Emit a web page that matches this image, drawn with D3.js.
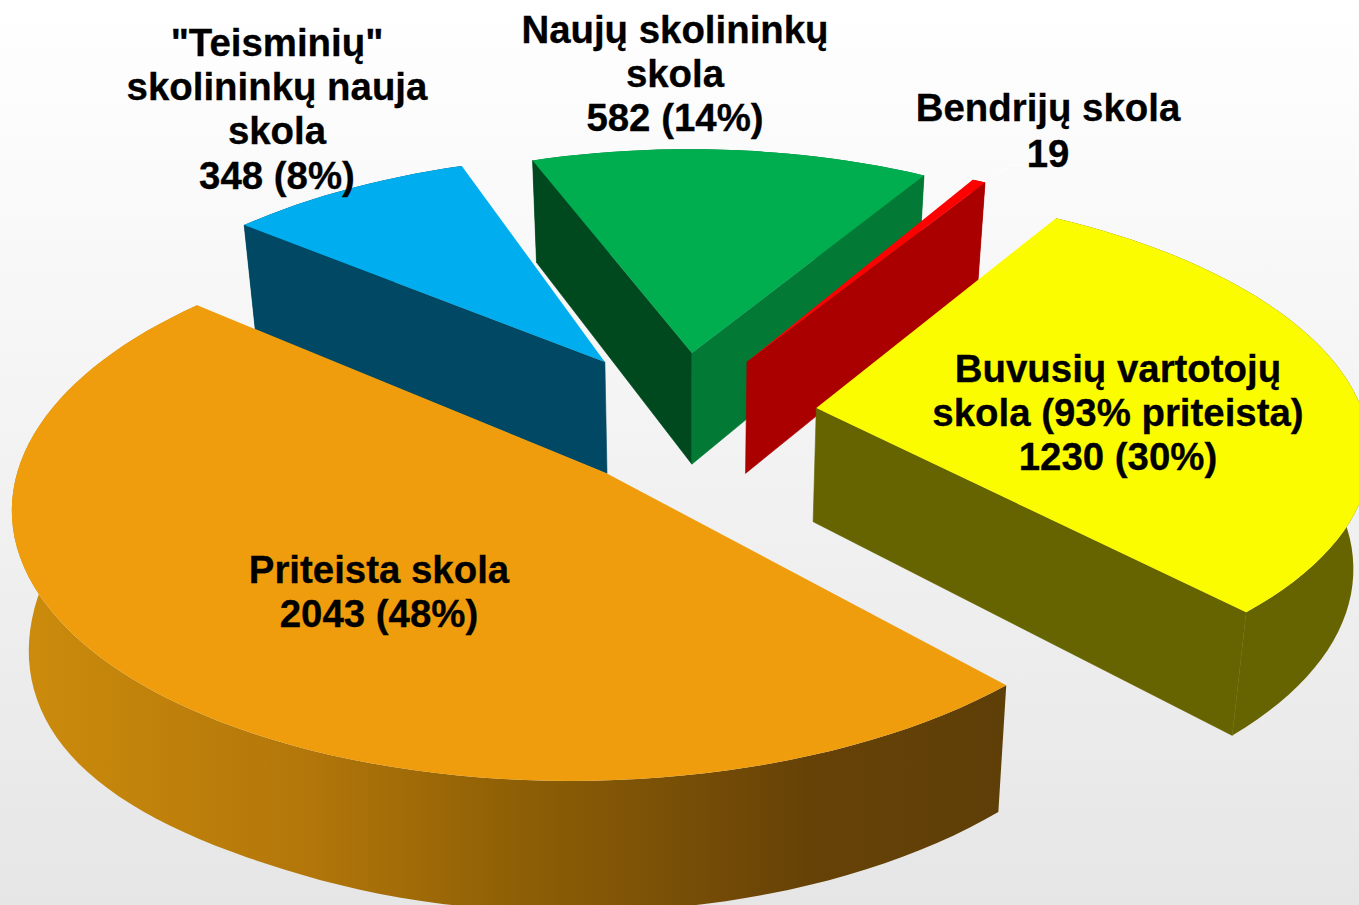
<!DOCTYPE html>
<html><head><meta charset="utf-8">
<script src="https://cdnjs.cloudflare.com/ajax/libs/d3/7.8.5/d3.min.js"></script>
<style>html,body{margin:0;padding:0;background:#fff;overflow:hidden}svg{display:block}
text{font-family:"Liberation Sans",Arial,sans-serif;font-weight:bold;font-size:38.4px;fill:#000;stroke:#000;stroke-width:0.3px;text-anchor:middle}</style>
</head><body>
<script>
const categories = ["Priteista skola", "\"Teisminių\" skolininkų nauja skola", "Naujų skolininkų skola", "Bendrijų skola", "Buvusių vartotojų skola (93% priteista)"];
const values = [2043, 348, 582, 19, 1230];
const topColors = ["#ef9d0d", "#00aeef", "#00ae50", "#ff0000", "#fcfc00"];
const startWallColors = ["#9a6508", "#004863", "#00491f", "#aa0000", "#666400"];
const endWallColors = ["#9a6508", "#004863", "#027a36", "#aa0000", "#666400"];
const outerWallColors = ["url(#orangeWall)", "#004863", "#027a36", "#aa0000", "#666400"];
const apexX = [-0.10, -0.108, 0.054, 0.156, 0.278];
const apexY = [0.159, -0.267, -0.303, -0.267, -0.084];
const rimX = [-0.14, -0.082, 0.054, 0.138, 0.267];
const rimY = [0.138, -0.215, -0.243, -0.222, -0.074];
const rimRx = [0.993, 1, 0.97, 1, 1];
const rimRy = [0.985, 1, 1, 1, 0.97];
const leftDepthBoost = [0.2, 0, 0, 0, 0];
const labelLines = [
  ["Priteista skola", "2043 (48%)"],
  ["\"Teisminių\"", "skolininkų nauja", "skola", "348 (8%)"],
  ["Naujų skolininkų", "skola", "582 (14%)"],
  ["Bendrijų skola", "19"],
  ["Buvusių vartotojų", "skola (93% priteista)", "1230 (30%)"]
];
const labelX = [379, 277, 675, 1048, 1118];
const labelY = [583, 55.5, 42.5, 121, 382];
const lineSteps = [44.4, 44.4, 44.4, 45.5, 44.2];
const drawOrder = [1, 2, 3, 4, 0];

const W = 1359, H = 905;
const deg = Math.PI / 180;
const cx = 663, cy = 430, horizon = -1500, kx = 0.289, ky = 0.137;

function project(X, Y) {
  const y = (cy - ky * Y * horizon) / (1 - ky * Y);
  return [cx + kx * X * (y - horizon), y];
}
function drop(p, boost) {
  const u = Math.max(0, (300 - p[0]) / 300);
  const f = 1 + boost * u * u;
  const h = (102 + (p[1] - 160) * 0.047) * f;
  return [p[0] + (690 - p[0]) * 0.025, p[1] + h];
}

const svg = d3.select("body").append("svg").attr("width", W).attr("height", H);
const defs = svg.append("defs");
const bg = defs.append("linearGradient").attr("id", "bg").attr("x1", 0).attr("y1", 0).attr("x2", 0).attr("y2", 1);
bg.append("stop").attr("offset", 0).attr("stop-color", "#ffffff");
bg.append("stop").attr("offset", 1).attr("stop-color", "#e6e6e6");
const og = defs.append("linearGradient").attr("id", "orangeWall").attr("gradientUnits", "userSpaceOnUse")
  .attr("x1", 15).attr("x2", 1005).attr("y1", 0).attr("y2", 0);
og.append("stop").attr("offset", 0).attr("stop-color", "#cd8c0c");
og.append("stop").attr("offset", 0.3).attr("stop-color", "#b2760a");
og.append("stop").attr("offset", 0.5).attr("stop-color", "#8f6005");
og.append("stop").attr("offset", 0.8).attr("stop-color", "#674207");
og.append("stop").attr("offset", 1).attr("stop-color", "#5e3f07");

svg.append("rect").attr("width", W).attr("height", H).attr("fill", "url(#bg)");

const pie = d3.pie().sort(null).value(d => d).startAngle(136.5 * deg).endAngle(496.5 * deg);
const arcs = pie(values);
const line = d3.line();

function slicePts(a, i) {
  const n = Math.max(2, Math.ceil((a.endAngle - a.startAngle) / (2 * deg)));
  return d3.range(n + 1).map(t => {
    const th = a.startAngle + (a.endAngle - a.startAngle) * t / n;
    return project(rimX[i] + rimRx[i] * Math.sin(th), rimY[i] - rimRy[i] * Math.cos(th));
  });
}

drawOrder.forEach(i => {
  const a = arcs[i];
  const rim = slicePts(a, i);
  const apex = project(apexX[i], apexY[i]);
  const b = leftDepthBoost[i];
  const g = svg.append("g").attr("class", "slice");
  const shape = (pts, fill) => g.append("path").attr("d", line(pts) + "Z").attr("fill", fill);
  const face = (p, q, fill) => shape([p, q, drop(q, b), drop(p, b)], fill).attr("stroke", fill).attr("stroke-width", 0.6);
  shape(rim.concat(rim.map(p => drop(p, b)).reverse()), outerWallColors[i]);
  if (Math.sin(a.startAngle) < 0) face(apex, rim[0], startWallColors[i]);
  if (Math.sin(a.endAngle) > 0) face(apex, rim[rim.length - 1], endWallColors[i]);
  shape([apex].concat(rim), topColors[i]);
});

// leader line for the small slice
const bRim = slicePts(arcs[3], 3);
const tip = bRim[bRim.length - 1];
svg.append("path").attr("d", line([tip, [tip[0] + 26, 165], [tip[0] + 37, 165]]))
  .attr("fill", "none").attr("stroke", "#fff").attr("stroke-width", 1);

labelLines.forEach((lines, i) => {
  const t = svg.append("text").attr("x", labelX[i]).attr("y", labelY[i]);
  lines.forEach((s, j) => t.append("tspan").attr("x", labelX[i]).attr("y", labelY[i] + j * lineSteps[i]).text(s));
});
</script>
</body></html>
